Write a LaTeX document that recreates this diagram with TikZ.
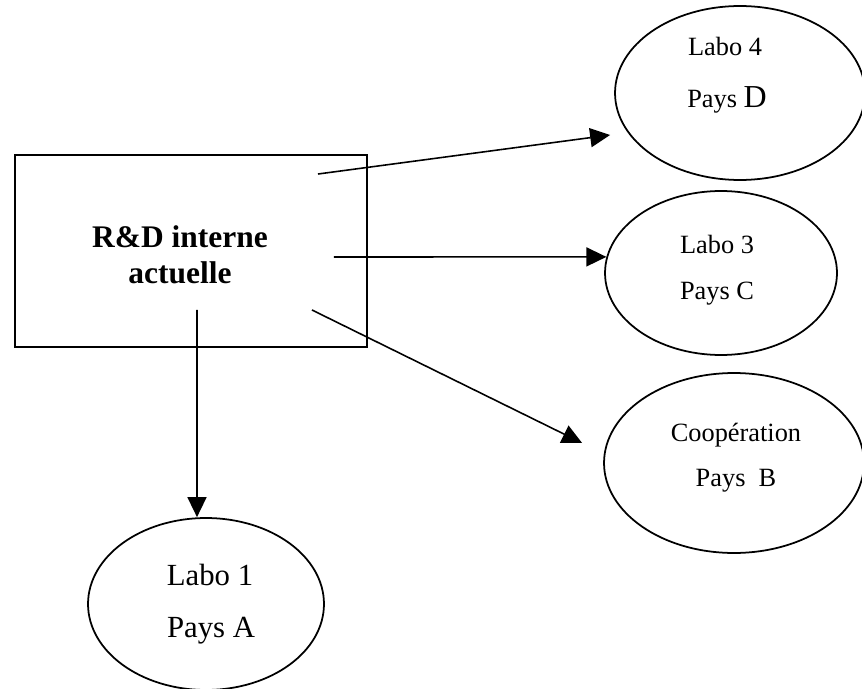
\documentclass[tikz,border=0pt]{standalone}
\usepackage{fontspec}
\setmainfont{Liberation Serif}
\usepackage{tikz}
\usetikzlibrary{arrows.meta, positioning, shapes.geometric, calc}

\begin{document}
\begin{tikzpicture}[
			x=0.02cm, y=-0.02cm,
			mainbox/.style={rectangle, draw, line width=1.3pt, minimum width=7.04cm, minimum height=3.84cm, inner sep=0pt},
			bubble/.style={ellipse, draw, line width=1pt, inner sep=0pt},
			txt/.style={anchor=base, inner sep=0pt, font=\fontsize{15}{18}\selectfont},
			bigtxt/.style={anchor=base, inner sep=0pt, font=\fontsize{17.5}{21}\selectfont},
			boldtxt/.style={anchor=base, inner sep=0pt, font=\fontsize{17.9}{21}\selectfont\bfseries},
			arrow/.style={-{Triangle[length=0.4cm, width=0.38cm]}, line width=0.9pt}
		]
		\useasboundingbox (0,0) rectangle (862,689);
		
		% Internal R&D
		\node[mainbox] (rd) at (191,251) {};
		\node[boldtxt] (rd-l1) at ([xshift=-0.22cm, yshift=0.08cm]rd.center) {R\&D interne};
		\node[boldtxt] (rd-l2) at ([xshift=-0.22cm, yshift=-0.66cm]rd.center) {actuelle};
		
		% Labo 4
		\node[bubble, minimum width=5cm, minimum height=3.48cm] (labo4) at (740,93) {};
		\node[txt] (labo4-l1) at ([xshift=-0.3cm, yshift=0.76cm]labo4.center) {Labo 4};
		\node[txt] (labo4-l2) at ([xshift=-0.26cm, yshift=-0.3cm]labo4.center) {Pays {\fontsize{18.2}{21}\selectfont D}};
		
		% Labo 3
		\node[bubble, minimum width=4.64cm, minimum height=3.28cm] (labo3) at (721,273) {};
		\node[txt] (labo3-l1) at ([xshift=-0.08cm, yshift=0.4cm]labo3.center) {Labo 3};
		\node[txt] (labo3-l2) at ([xshift=-0.08cm, yshift=-0.54cm]labo3.center) {Pays C};
		
		% Cooperation
		\node[bubble, minimum width=5.2cm, minimum height=3.6cm] (coop) at (734,463) {};
		\node[txt] (coop-l1) at ([xshift=0.04cm, yshift=0.44cm]coop.center) {Coopération};
		\node[txt] (coop-l2) at ([xshift=0.04cm, yshift=-0.48cm]coop.center) {Pays\ \ B};
		
		% Labo 1
		\node[bubble, minimum width=4.72cm, minimum height=3.44cm] (labo1) at (206,604) {};
		\node[bigtxt] (labo1-l1) at ([xshift=0.08cm, yshift=0.38cm]labo1.center) {Labo 1};
		\node[bigtxt] (labo1-l2) at ([xshift=0.1cm, yshift=-0.68cm]labo1.center) {Pays A};
		
		% Arrows
		\draw[arrow] ([xshift=2.54cm, yshift=1.54cm]rd.center) -- ([xshift=-0.08cm, yshift=-0.84cm]labo4.west);
		\draw[arrow] ([xshift=2.86cm, yshift=-0.12cm]rd.center) -- (labo3.172);
		\draw[arrow] ([xshift=2.42cm, yshift=-1.18cm]rd.center) -- ([xshift=-0.42cm, yshift=0.4cm]coop.west);
		\draw[arrow] ([xshift=0.12cm, yshift=-1.18cm]rd.center) -- ([xshift=-0.18cm]labo1.north);
\end{tikzpicture}
\end{document}
